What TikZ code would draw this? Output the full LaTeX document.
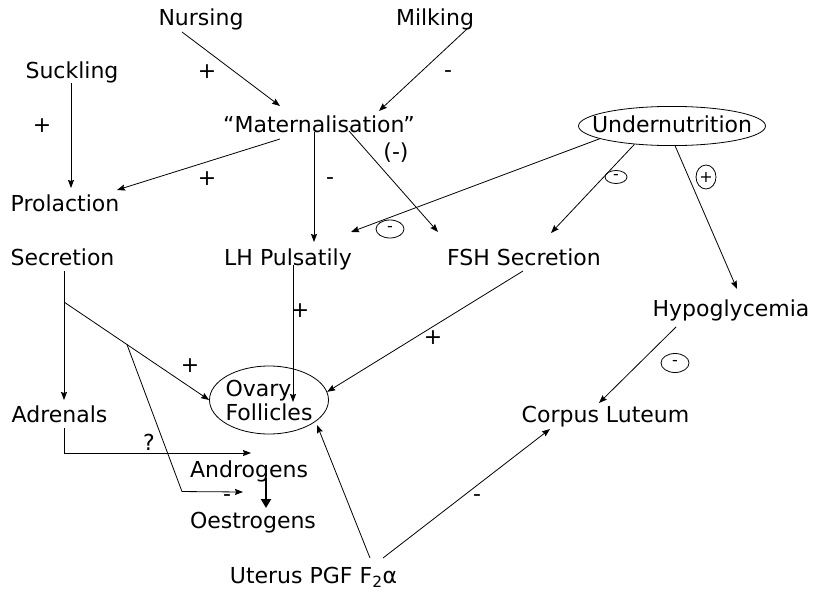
\documentclass[tikz,border=0pt]{standalone}
\usepackage{fontspec}
\setmainfont{DejaVu Sans}
\usetikzlibrary{arrows.meta,shapes.geometric,calc}
\begin{document}
\begin{tikzpicture}[x=1pt,y=-1pt,
    >={Stealth[length=8pt,width=6pt,inset=1pt]},
    every node/.style={font=\fontsize{22}{24}\selectfont, inner sep=2pt},
    lbl/.style={anchor=base},
    arr/.style={->, line width=0.8pt},
    ring/.style={draw, ellipse, inner sep=0pt, line width=0.8pt, font=\fontsize{16}{16}\selectfont}]
\useasboundingbox (0,0) rectangle (813,591);
\node[lbl] (nurs) at (201,26) {Nursing};
\node[lbl] (milk) at (435,26) {Milking};
\node[lbl] (suck) at (72,79) {Suckling};
\node[lbl] (mat) at (319,132) {“Maternalisation”};
\node[draw, ellipse, line width=0.8pt, inner xsep=-16pt, inner ysep=4pt, text depth=3pt,
    minimum width=187, minimum height=38] (under) at (672,126) {Undernutrition};
\node[lbl] (prol) at (65,211) {Prolaction};
\node[lbl] (sec) at (62.5,265) {Secretion};
\node[lbl] (lh) at (288,265) {LH Pulsatily};
\node[lbl] (fsh) at (524,265) {FSH Secretion};
\node[lbl] (hypo) at (731,316) {Hypoglycemia};
\node[draw, ellipse, line width=0.8pt, inner xsep=-5pt, inner ysep=0pt, align=left,
    minimum width=119, minimum height=68] (ovary) at (269,400) {Ovary\\Follicles};
\node[lbl] (adr) at (59.5,422) {Adrenals};
\node[lbl] (corp) at (605.5,422) {Corpus Luteum};
\node[lbl] (andr) at (249,477) {Androgens};
\node[lbl] (oest) at (253,528) {Oestrogens};
\node[lbl] (ut) at (313.5,583) {Uterus PGF F\textsubscript{2}α};

\node[lbl] (s1) at (207,79) {+};
\node[lbl] (s2) at (42,132) {+};
\node[lbl] (s3) at (448,78) {-};
\node[lbl] (s4) at (396,159) {(-)};
\node[lbl] (s5) at (207,185) {+};
\node[lbl] (s6) at (330,184) {-};
\node[lbl] (s7) at (300,317) {+};
\node[lbl] (s8) at (433,344) {+};
\node[lbl] (s9) at (190,372) {+};
\node[lbl] (s10) at (149,450) {?};
\node[lbl] (s11) at (227,501) {-};
\node[lbl] (s12) at (477,501) {-};
\node[ring, minimum width=28, minimum height=18] (r1) at (390,229) {-};
\node[ring, minimum width=22, minimum height=13] (r2) at (616,177) {-};
\node[ring, minimum width=20, minimum height=24] (r3) at (706,177) {+};
\node[ring, minimum width=28, minimum height=19] (r4) at (675,363) {-};

\draw[arr] ($(nurs.base)+(-19,6)$) -- ($(mat.base)+(-39,-26)$);
\draw[arr] ($(milk.base)+(32,3)$) -- ($(mat.base)+(60,-21)$);
\draw[arr] ($(suck.base)+(-1,4)$) -- ($(prol.base)+(6,-23)$);
\draw[arr] ($(mat.base)+(-39,7)$) -- ($(prol.base)+(52,-21)$);
\draw[arr] ($(mat.base)+(-5,0)$) -- ($(lh.base)+(26,-23)$);
\draw[arr] ($(mat.base)+(30,-1)$) -- ($(fsh.base)+(-86,-33)$);
\draw[arr] (under.190) -- ($(lh.base)+(63,-33)$);
\draw[arr] (under.206) -- ($(fsh.base)+(27,-32)$);
\draw[arr] (under.279) -- ($(hypo.base)+(6,-27)$);
\draw[arr] ($(lh.base)+(5,0)$) -- ($(ovary)+(24,2)$);
\draw[arr] ($(fsh.base)+(-1,6)$) -- (ovary.8);
\draw[arr] ($(sec.base)+(1.5,6)$) -- ($(adr.base)+(4.5,-22)$);
\coordinate (split) at ($(sec.base)+(1.5,37)$);
\draw[arr] (split) -- (ovary.west);
\coordinate (fork) at ($(split)!0.434!(ovary.west)$);
\draw[arr] (fork) -- ++(55,147) -- ($(oest.base)+(-10,-36)$);
\draw[arr] ($(adr.base)+(4.5,6)$) |- ($(andr.base)+(2,-24)$);
\draw[->, line width=2.8pt, >={Stealth[length=9pt,width=10pt,inset=0pt]}]
    ($(andr.base)+(17,1)$) -- ($(oest.base)+(13,-20)$);
\draw[arr] ($(ut.base)+(56.5,-25)$) -- ($(ovary)+(48,25)$);
\draw[arr] ($(ut.base)+(69.5,-25)$) -- ($(corp.base)+(-55.5,7)$);
\draw[arr] ($(hypo.base)+(-55,11)$) -- ($(corp.base)+(-6.5,-19)$);
\end{tikzpicture}
\end{document}
